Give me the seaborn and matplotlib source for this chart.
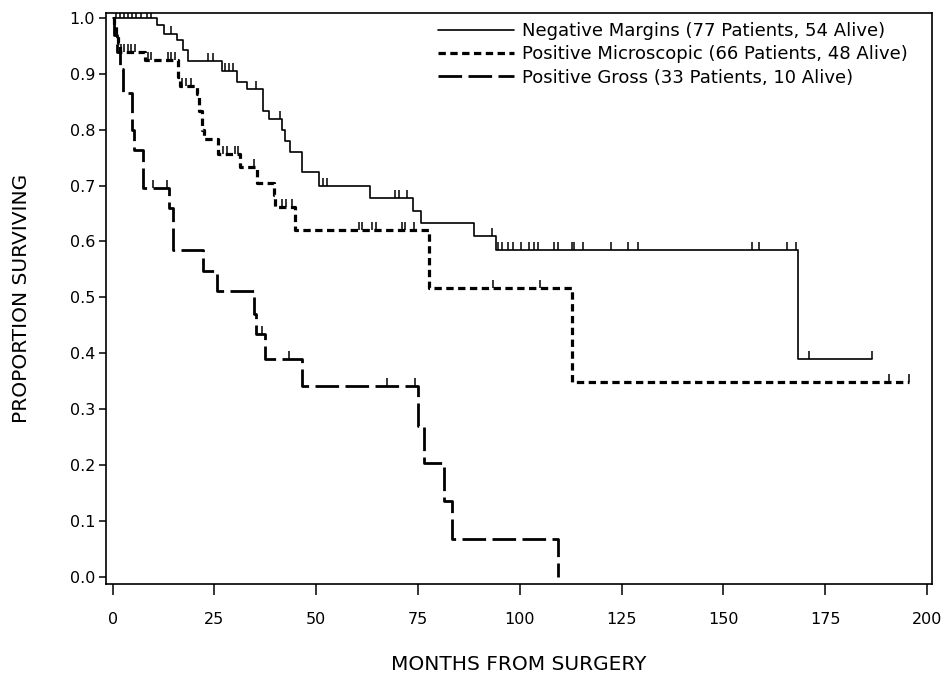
import numpy as np
import pandas as pd
import matplotlib
matplotlib.use("Agg")
import matplotlib.pyplot as plt
import seaborn as sns

# ---- data (months, proportion surviving) ----
group_names = ["Negative Margins (77 Patients, 54 Alive)",
               "Positive Microscopic (66 Patients, 48 Alive)",
               "Positive Gross (33 Patients, 10 Alive)"]

neg_times = [10.8, 12.5, 15.7, 17.2, 18.6, 26.8, 30.5, 32.9, 37.0, 38.3, 41.5, 42.4,
             43.6, 46.5, 50.6, 63.3, 73.8, 75.7, 88.7, 94.2, 168.4]
neg_surv = [0.987, 0.972, 0.960, 0.942, 0.923, 0.906, 0.886, 0.872, 0.834, 0.819, 0.800,
            0.780, 0.760, 0.725, 0.700, 0.677, 0.655, 0.633, 0.609, 0.585, 0.390]
neg_censor = [0.8, 1.8, 2.8, 3.8, 4.8, 5.8, 7.0, 8.5, 9.5, 14.3, 23.5, 24.7, 27.5, 28.5,
              29.5, 35.2, 41.0, 51.7, 52.7, 69.3, 70.2, 72.4, 93.2, 94.7, 95.7, 97.2,
              98.2, 100.2, 102.2, 103.4, 104.4, 108.3, 109.3, 112.7, 113.4, 115.6,
              122.5, 126.5, 129.0, 157.0, 158.7, 165.6, 167.8, 171.0, 186.5]

mic_times = [0.3, 0.8, 1.4, 1.8, 8.0, 16.1, 16.6, 20.6, 21.3, 22.0, 22.5, 25.8, 31.3,
             35.4, 39.5, 39.9, 44.8, 77.6, 112.7]
mic_surv = [0.985, 0.970, 0.955, 0.939, 0.924, 0.894, 0.879, 0.864, 0.834, 0.800, 0.783,
            0.757, 0.734, 0.704, 0.683, 0.662, 0.620, 0.517, 0.348]
mic_censor = [2.0, 2.8, 3.8, 4.6, 5.5, 8.6, 9.5, 13.6, 14.3, 15.3, 17.0, 18.0, 19.2,
              27.0, 28.0, 30.0, 30.8, 34.6, 41.5, 42.5, 44.0, 60.4, 61.2, 63.7, 64.7,
              71.1, 71.9, 73.9, 93.5, 105.0, 190.6, 195.6]

gross_times = [0.3, 1.0, 1.8, 2.6, 4.8, 5.2, 7.5, 13.8, 14.8, 22.3, 25.6, 34.8, 35.2,
               37.4, 46.5, 75.1, 76.4, 81.3, 83.4, 109.3]
gross_surv = [0.970, 0.939, 0.909, 0.866, 0.800, 0.763, 0.695, 0.660, 0.585, 0.548,
              0.511, 0.470, 0.434, 0.389, 0.342, 0.270, 0.204, 0.135, 0.067, 0.0]
gross_censor = [10.0, 13.3, 36.6, 43.2, 67.4, 74.3]

x_ticks = [0, 25, 50, 75, 100, 125, 150, 175, 200]
y_ticks = [0.0, 0.1, 0.2, 0.3, 0.4, 0.5, 0.6, 0.7, 0.8, 0.9, 1.0]


def step_frame(times, surv, censor):
    t_end = max(max(times), max(censor) if censor else 0)
    t = [0.0] + list(times) + [t_end]
    s = [1.0] + list(surv) + [surv[-1]]
    return pd.DataFrame({"month": t, "surv": s})


def censor_frame(times, surv, ctimes):
    idx = np.searchsorted(np.asarray(times), np.asarray(ctimes), side="right")
    levels = np.concatenate([[1.0], surv])[idx]
    return pd.DataFrame({"month": ctimes, "surv": levels})


sns.set_theme(style="ticks")
plt.rcParams["font.family"] = ["DejaVu Sans"]
plt.rcParams["axes.linewidth"] = 1.2
for key in ["text.color", "axes.labelcolor", "xtick.color", "ytick.color",
            "axes.edgecolor"]:
    plt.rcParams[key] = "black"

fig = plt.figure(figsize=(9.48, 6.82), dpi=100)
ax = fig.add_axes([0.112, 0.143, 0.871, 0.838])

series = [
    (neg_times, neg_surv, neg_censor, dict(lw=1.2, linestyle="-")),
    (mic_times, mic_surv, mic_censor, dict(lw=2.3, linestyle=(0, (2.3, 1.4)))),
    (gross_times, gross_surv, gross_censor, dict(lw=2.0, linestyle=(0, (8.5, 2.3)))),
]

for name, (t, s, c, style) in zip(group_names, series):
    df = step_frame(t, s, c)
    sns.lineplot(data=df, x="month", y="surv", estimator=None, sort=False,
                 drawstyle="steps-post", color="black", label=name, ax=ax, **style)
    cdf = censor_frame(t, s, c)
    sns.scatterplot(data=cdf, x="month", y="surv", marker=2, s=30, color="black",
                    linewidth=1.1, ax=ax, legend=False)

ax.set_xlim(-1.6, 201.2)
ax.set_ylim(-0.014, 1.009)
ax.set_xticks(x_ticks)
ax.set_xticklabels([str(v) for v in x_ticks])
ax.set_yticks(y_ticks)
ax.set_yticklabels([f"{v:.1f}" for v in y_ticks])
ax.tick_params(axis="both", direction="out", width=1.1, labelsize=11.5, colors="black")
ax.tick_params(axis="x", length=8, pad=12)
ax.tick_params(axis="y", length=5, pad=3)
for sp in ax.spines.values():
    sp.set_visible(True)
    sp.set_color("black")
    sp.set_linewidth(1.2)

ax.set_xlabel("MONTHS FROM SURGERY", fontsize=14.5, labelpad=20, color="black")
ax.set_ylabel("PROPORTION SURVIVING", fontsize=14.5, labelpad=28, color="black")

handles, labels = ax.get_legend_handles_labels()
leg = ax.legend(handles[:3], labels[:3], loc="upper left", bbox_to_anchor=(0.386, 1.008),
                frameon=False, fontsize=13, handlelength=4.2, handletextpad=0.45,
                labelspacing=0.3, borderpad=0.25)
for txt in leg.get_texts():
    txt.set_color("black")

fig.savefig("out.png", dpi=100)
